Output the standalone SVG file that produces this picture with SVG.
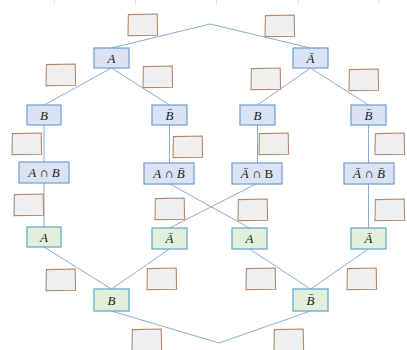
<svg xmlns="http://www.w3.org/2000/svg" xmlns:xlink="http://www.w3.org/1999/xlink" width="407" height="350" viewBox="0 0 407 350">
  <style>
    .edge { stroke: #8eaad6; stroke-width: 1; fill: none; }
    .grid { stroke: #d3e3f3; stroke-width: 1; }
    .blue rect { fill: #dae3f3; stroke: #6f9fd0; stroke-width: 1.2; }
    .green rect { fill: #e2efda; stroke: #5aa6cc; stroke-width: 1.2; }
    .lbl { fill: #efefef; stroke: #b5896a; stroke-width: 1.1; }
    text { font-family: "Liberation Serif", "DejaVu Serif", serif; font-size: 13px; font-style: italic; fill: #222; text-anchor: middle; }
    .up { font-style: normal; }
  </style>
  <defs>
    <!-- empty answer box with a slightly hand-drawn outline -->
    <path id="slot" class="lbl" d="M0.4,0.6 L29.2,0 L29.6,21.2 L0,21.6 Z"/>
  </defs>
  <rect width="407" height="350" fill="#ffffff"/>
  <!-- faint column rules at the top edge -->
  <g>
    <line class="grid" x1="54.5" y1="0" x2="54.5" y2="4"/>
    <line class="grid" x1="135.5" y1="0" x2="135.5" y2="4"/>
    <line class="grid" x1="216.5" y1="0" x2="216.5" y2="4"/>
    <line class="grid" x1="298" y1="0" x2="298" y2="4"/>
    <line class="grid" x1="379" y1="0" x2="379" y2="4"/>
  </g>
  <g id="connectors">
    <path class="edge" d="M111.5,48 L210,24 L310.5,48"/>
    <path class="edge" d="M44,105 L111.5,68 L169.5,105"/>
    <path class="edge" d="M257.5,105 L310.5,68 L368.5,105"/>
    <line class="edge" x1="44" y1="125" x2="44" y2="162"/>
    <line class="edge" x1="169.5" y1="125" x2="169.5" y2="163"/>
    <line class="edge" x1="257.5" y1="125" x2="257.5" y2="163"/>
    <line class="edge" x1="368.5" y1="125" x2="368.5" y2="163"/>
    <line class="edge" x1="44" y1="183" x2="44" y2="227"/>
    <line class="edge" x1="368.5" y1="184" x2="368.5" y2="228"/>
    <line class="edge" x1="170" y1="184" x2="249.5" y2="228"/>
    <line class="edge" x1="256" y1="184" x2="169.5" y2="228"/>
    <path class="edge" d="M44,247 L111.5,289 L169.5,249"/>
    <path class="edge" d="M249.5,249 L310.5,289 L368.5,249"/>
    <path class="edge" d="M111.5,311 L219,343 L310.5,311"/>
  </g>
  <g id="slots">
    <use xlink:href="#slot" x="128" y="14"/>
    <use xlink:href="#slot" x="265" y="15"/>
    <use xlink:href="#slot" x="46" y="64"/>
    <use xlink:href="#slot" x="143" y="66"/>
    <use xlink:href="#slot" x="251" y="68"/>
    <use xlink:href="#slot" x="349" y="69"/>
    <use xlink:href="#slot" x="12" y="133"/>
    <use xlink:href="#slot" x="173" y="136"/>
    <use xlink:href="#slot" x="259" y="133"/>
    <use xlink:href="#slot" x="375" y="133"/>
    <use xlink:href="#slot" x="14" y="194"/>
    <use xlink:href="#slot" x="155" y="198"/>
    <use xlink:href="#slot" x="238" y="199"/>
    <use xlink:href="#slot" x="375" y="199"/>
    <use xlink:href="#slot" x="46" y="269"/>
    <use xlink:href="#slot" x="147" y="268"/>
    <use xlink:href="#slot" x="246" y="268"/>
    <use xlink:href="#slot" x="347" y="268"/>
    <use xlink:href="#slot" x="132" y="329"/>
    <use xlink:href="#slot" x="274" y="329"/>
  </g>
  <!-- first stage -->
  <g id="n-a" class="blue"><rect x="94" y="48" width="35" height="20"/><text x="111.5" y="62.5">A</text></g>
  <g id="n-abar" class="blue"><rect x="293" y="48" width="35" height="20"/><text x="310.5" y="62.5">Ā</text></g>
  <!-- second stage -->
  <g id="n-b1" class="blue"><rect x="27" y="105" width="34" height="20"/><text x="44" y="119.5">B</text></g>
  <g id="n-bbar1" class="blue"><rect x="152" y="105" width="35" height="20"/><text x="169.5" y="119.5">B̄</text></g>
  <g id="n-b2" class="blue"><rect x="240" y="105" width="35" height="20"/><text x="257.5" y="119.5">B</text></g>
  <g id="n-bbar2" class="blue"><rect x="351" y="105" width="35" height="20"/><text x="368.5" y="119.5">B̄</text></g>
  <!-- intersections -->
  <g id="n-ab" class="blue"><rect x="19" y="162" width="50" height="21"/><text x="44" y="177">A ∩ B</text></g>
  <g id="n-abbar" class="blue"><rect x="144" y="163" width="50" height="21"/><text x="169" y="178">A ∩ B̄</text></g>
  <g id="n-abarb" class="blue"><rect x="232" y="163" width="50" height="21"/><text x="257" y="178">Ā ∩ <tspan class="up">B</tspan></text></g>
  <g id="n-abarbbar" class="blue"><rect x="344" y="163" width="50" height="21"/><text x="369" y="178">Ā ∩ B̄</text></g>
  <!-- reverse tree, first stage -->
  <g id="r-a1" class="green"><rect x="27" y="227" width="34" height="20"/><text x="44" y="241.5">A</text></g>
  <g id="r-abar1" class="green"><rect x="152" y="228" width="35" height="21"/><text x="169.5" y="243">Ā</text></g>
  <g id="r-a2" class="green"><rect x="232" y="228" width="35" height="21"/><text x="249.5" y="243">A</text></g>
  <g id="r-abar2" class="green"><rect x="351" y="228" width="35" height="21"/><text x="368.5" y="243">Ā</text></g>
  <!-- reverse tree, second stage -->
  <g id="r-b" class="green"><rect x="94" y="289" width="35" height="22"/><text x="111.5" y="304.5">B</text></g>
  <g id="r-bbar" class="green"><rect x="293" y="289" width="35" height="22"/><text x="310.5" y="304.5">B̄</text></g>
</svg>
